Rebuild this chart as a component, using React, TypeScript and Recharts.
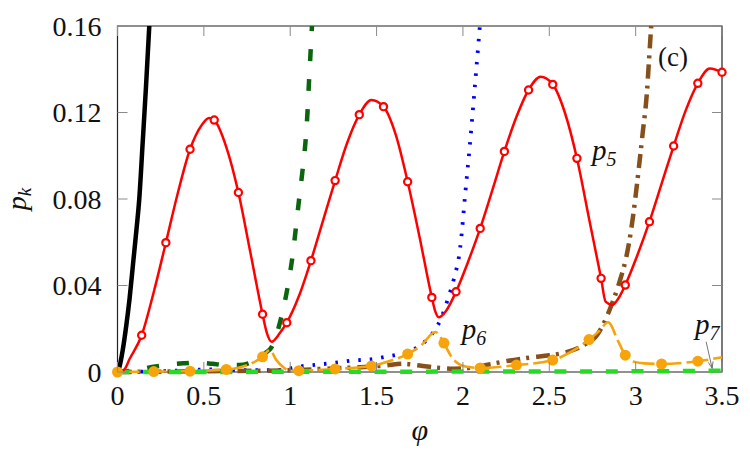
import React from 'react';
import { LineChart, Line, XAxis, YAxis, ReferenceArea, ReferenceDot, ReferenceLine, Label } from 'recharts';

type Pt = [number, number];

const xTicks = [0, 0.5, 1, 1.5, 2, 2.5, 3, 3.5];
const yTicks = [0, 0.04, 0.08, 0.12, 0.16];

// steep curves leave the frame at p = 0.16
const curveBlack: Pt[] = [
  [0, 0], [0.01, 0.002], [0.03, 0.01], [0.05, 0.021], [0.07, 0.034], [0.09, 0.05],
  [0.11, 0.066], [0.126, 0.08], [0.145, 0.105], [0.165, 0.132], [0.184, 0.16],
];

const curveDarkGreen: Pt[] = [
  [0, 0], [0.1, 0.0008], [0.22, 0.0025], [0.3, 0.0034], [0.38, 0.004], [0.45, 0.0043],
  [0.55, 0.0038], [0.62, 0.0032], [0.7, 0.0032], [0.76, 0.004], [0.82, 0.0065], [0.86, 0.009],
  [0.893, 0.0116], [0.941, 0.023], [0.975, 0.035], [1.009, 0.051], [1.051, 0.0795], [1.071, 0.093],
  [1.09, 0.108], [1.1, 0.12], [1.109, 0.1346], [1.118, 0.148], [1.126, 0.16],
];

const curveBlue: Pt[] = [
  [0, 0], [0.3, 0.0005], [0.55, 0.0012], [0.8, 0.0008], [0.95, 0.001], [1.05, 0.0025],
  [1.15, 0.0033], [1.29, 0.0046], [1.36, 0.0053], [1.42, 0.0056], [1.48, 0.006], [1.55, 0.007],
  [1.62, 0.008], [1.68, 0.0093], [1.74, 0.0116], [1.79, 0.0148], [1.83, 0.0186], [1.869, 0.024],
  [1.917, 0.0348], [1.946, 0.0425], [1.985, 0.058], [2.014, 0.083], [2.039, 0.104], [2.068, 0.131],
  [2.098, 0.16],
];

const curveBrown: Pt[] = [
  [0, 0], [0.3, 0.0002], [0.7, 0.0005], [1.0, 0.0008], [1.2, 0.0015], [1.4, 0.0022], [1.55, 0.003],
  [1.65, 0.0038], [1.75, 0.003], [1.85, 0.002], [1.95, 0.0015], [2.05, 0.002], [2.15, 0.0035],
  [2.25, 0.005], [2.4, 0.0068], [2.5, 0.0077], [2.6, 0.0092], [2.7, 0.0125], [2.78, 0.0175],
  [2.83, 0.025], [2.86, 0.031], [2.9, 0.04], [2.96, 0.059], [2.985, 0.072], [3.008, 0.087],
  [3.04, 0.11], [3.066, 0.13], [3.078, 0.145], [3.09, 0.16],
];

const curveP5: Pt[] = [
  [0, 0], [0.04, 0.0012], [0.07, 0.006], [0.14, 0.017], [0.21, 0.037], [0.28, 0.0598], [0.35, 0.083],
  [0.42, 0.103], [0.49, 0.1145], [0.53, 0.1175], [0.56, 0.1165], [0.63, 0.104], [0.7, 0.083],
  [0.77, 0.055], [0.84, 0.0267], [0.863, 0.0186], [0.892, 0.014], [0.94, 0.018], [0.98, 0.0228],
  [1.05, 0.035], [1.12, 0.0515], [1.19, 0.07], [1.26, 0.0885], [1.33, 0.106], [1.4, 0.119],
  [1.47, 0.1258], [1.54, 0.1227], [1.61, 0.11], [1.68, 0.088], [1.75, 0.062], [1.82, 0.0345],
  [1.84, 0.028], [1.86, 0.0253], [1.9, 0.028], [1.96, 0.0371], [2.03, 0.051], [2.1, 0.0664],
  [2.17, 0.084], [2.24, 0.102], [2.31, 0.118], [2.38, 0.1304], [2.45, 0.1365], [2.52, 0.133],
  [2.59, 0.12], [2.66, 0.0988], [2.73, 0.071], [2.8, 0.0433], [2.826, 0.0325], [2.865, 0.031],
  [2.9, 0.034], [2.94, 0.0402], [3.01, 0.054], [3.08, 0.0695], [3.15, 0.087], [3.22, 0.1045],
  [3.29, 0.121], [3.36, 0.1335], [3.43, 0.1403], [3.5, 0.1386],
];

const marksP5: Pt[] = [
  [0.14, 0.017], [0.28, 0.0598], [0.42, 0.103], [0.56, 0.1165], [0.7, 0.083], [0.84, 0.0267],
  [0.98, 0.0228], [1.12, 0.0515], [1.26, 0.0885], [1.4, 0.119], [1.54, 0.1227], [1.68, 0.088],
  [1.82, 0.0345], [1.96, 0.0371], [2.1, 0.0664], [2.24, 0.102], [2.38, 0.1304], [2.52, 0.133],
  [2.66, 0.0988], [2.8, 0.0433], [2.94, 0.0402], [3.08, 0.0695], [3.22, 0.1045], [3.36, 0.1335],
  [3.5, 0.1386],
];

const curveP6: Pt[] = [
  [0, 0], [0.21, 0.0002], [0.42, 0.0004], [0.63, 0.0012], [0.7, 0.002], [0.77, 0.0038], [0.84, 0.007],
  [0.882, 0.0102], [0.92, 0.0055], [0.96, 0.0022], [0.99, 0.0008], [1.05, 0.0006], [1.26, 0.0014],
  [1.47, 0.0028], [1.58, 0.0052], [1.68, 0.0083], [1.76, 0.0125], [1.84, 0.0185], [1.89, 0.0134],
  [1.93, 0.0075], [1.97, 0.004], [2.02, 0.0024], [2.1, 0.0019], [2.31, 0.0032], [2.52, 0.0055],
  [2.63, 0.0095], [2.73, 0.015], [2.79, 0.019], [2.84, 0.023], [2.9, 0.014], [2.94, 0.0078],
  [2.98, 0.005], [3.05, 0.004], [3.15, 0.0037], [3.36, 0.005], [3.5, 0.0068],
];

const marksP6: Pt[] = [
  [0, 0], [0.21, 0.0002], [0.42, 0.0004], [0.63, 0.0012], [0.84, 0.007], [1.05, 0.0006],
  [1.26, 0.0014], [1.47, 0.0028], [1.68, 0.0083], [1.89, 0.0134], [2.1, 0.0019], [2.31, 0.0032],
  [2.52, 0.0055], [2.73, 0.015], [2.94, 0.0078], [3.15, 0.0037], [3.36, 0.005],
];

const curveP7: Pt[] = [
  [0, 0], [0.5, 0], [1, 0.0001], [1.5, 0.0001], [2, 0.0002], [2.5, 0.0002], [3, 0.0003], [3.5, 0.0006],
];

const rows = (pts: Pt[]) => pts.map(([x, y]) => ({ x, y }));

const W = 750;
const H = 450;
const PLOT_TOP = 26;
const PLOT_BOTTOM = 372;
const PLOT_LEFT = 117.5;
const PLOT_RIGHT = 722;
const TICK_LEN = 10;
const FONT = "'Liberation Serif', 'DejaVu Serif', serif";
const serif = { fontFamily: FONT };
const italic = { fontFamily: FONT, fontStyle: 'italic' as const };

const XTick = (props: any) => {
  const { x, payload } = props;
  return (
    <g>
      <line x1={x} x2={x} y1={PLOT_BOTTOM} y2={PLOT_BOTTOM - TICK_LEN} stroke="#8a8a8a" />
      <line x1={x} x2={x} y1={PLOT_TOP} y2={PLOT_TOP + TICK_LEN} stroke="#8a8a8a" />
      <text x={x} y={PLOT_BOTTOM + 33} textAnchor="middle" style={serif} fontSize={28} fill="#111">
        {String(payload.value)}
      </text>
    </g>
  );
};

const YTick = (props: any) => {
  const { y, payload } = props;
  return (
    <g>
      <line x1={PLOT_LEFT} x2={PLOT_LEFT + TICK_LEN} y1={y} y2={y} stroke="#8a8a8a" />
      <line x1={PLOT_RIGHT} x2={PLOT_RIGHT - TICK_LEN} y1={y} y2={y} stroke="#8a8a8a" />
      <text x={PLOT_LEFT - 16} y={y + 9.5} textAnchor="end" style={serif} fontSize={28} fill="#111">
        {String(payload.value)}
      </text>
    </g>
  );
};

// italic p with a subscript, placed at a data point
const pLabel = (sub: string) => (props: any) => (
  <text x={props.cx} y={props.cy} style={italic} fontSize={29} fill="#111">
    p
    <tspan fontSize={20} dy={6} style={serif}>{sub}</tspan>
  </text>
);

const Arrow = (props: any) => {
  const { x1, y1, x2, y2 } = props;
  const a = Math.atan2(y2 - y1, x2 - x1);
  const L = 7;
  const w = 0.35;
  const pts = [
    [x2 - L * Math.cos(a - w), y2 - L * Math.sin(a - w)],
    [x2, y2],
    [x2 - L * Math.cos(a + w), y2 - L * Math.sin(a + w)],
  ];
  return (
    <g>
      <line x1={x1} y1={y1} x2={x2} y2={y2} stroke="#666" strokeWidth={0.9} />
      <polyline points={pts.map((p) => p.join(',')).join(' ')} fill="none" stroke="#666" strokeWidth={0.9} />
    </g>
  );
};

const App = () => (
  <div style={{ position: 'absolute', left: 0, top: 0, background: '#fff' }}>
    <LineChart width={W} height={H} margin={{ top: PLOT_TOP, right: W - PLOT_RIGHT, bottom: 0, left: 0 }}>
      <XAxis
        type="number"
        dataKey="x"
        domain={[0, 3.5]}
        ticks={xTicks}
        interval={0}
        height={H - PLOT_BOTTOM}
        axisLine={false}
        tickLine={false}
        tickSize={0}
        tick={<XTick />}
      >
        <Label
          content={(p: any) => (
            <text
              x={p.viewBox.x + p.viewBox.width / 2}
              y={p.viewBox.y + 68}
              textAnchor="middle"
              style={italic}
              fontSize={30}
              fill="#111"
            >
              φ
            </text>
          )}
        />
      </XAxis>
      <YAxis
        type="number"
        domain={[0, 0.16]}
        ticks={yTicks}
        interval={0}
        width={PLOT_LEFT}
        axisLine={false}
        tickLine={false}
        tickSize={0}
        tick={<YTick />}
      >
        <Label
          content={(p: any) => {
            const cy = p.viewBox.y + p.viewBox.height / 2;
            return (
              <text
                x={26}
                y={cy}
                transform={`rotate(-90, 26, ${cy})`}
                textAnchor="middle"
                style={italic}
                fontSize={28}
                fill="#111"
              >
                p<tspan fontSize={19} dy={5}>k</tspan>
              </text>
            );
          }}
        />
      </YAxis>

      <ReferenceArea x1={0} x2={3.5} y1={0} y2={0.16} fill="none" stroke="#222" strokeWidth={1.2} />

      <Line data={rows(curveBlack)} dataKey="y" type="monotone" stroke="#000" strokeWidth={4.5}
        dot={false} activeDot={false} isAnimationActive={false} />
      <Line data={rows(curveDarkGreen)} dataKey="y" type="monotone" stroke="#0b650f" strokeWidth={4.5}
        strokeDasharray="12 18" dot={false} activeDot={false} isAnimationActive={false} />
      <Line data={rows(curveBlue)} dataKey="y" type="monotone" stroke="#0000ff" strokeWidth={3.8}
        strokeDasharray="2.5 9" dot={false} activeDot={false} isAnimationActive={false} />
      <Line data={rows(curveBrown)} dataKey="y" type="monotone" stroke="#85501c" strokeWidth={4.5}
        strokeDasharray="14 6 3 7" dot={false} activeDot={false} isAnimationActive={false} />
      <Line data={rows(curveP6)} dataKey="y" type="monotone" stroke="#f7a40b" strokeWidth={2.6}
        strokeDasharray="22 5" dot={false} activeDot={false} isAnimationActive={false} />
      <Line data={rows(marksP6)} dataKey="y" stroke="none" isAnimationActive={false} activeDot={false}
        dot={{ r: 5.5, fill: '#f7a40b', stroke: 'none' }} />
      <Line data={rows(curveP7)} dataKey="y" type="monotone" stroke="#22dd22" strokeWidth={4.5}
        strokeDasharray="12 13.7" dot={false} activeDot={false} isAnimationActive={false} />
      <Line data={rows(curveP5)} dataKey="y" type="monotone" stroke="#ff0000" strokeWidth={2.5}
        dot={false} activeDot={false} isAnimationActive={false} />
      <Line data={rows(marksP5)} dataKey="y" stroke="none" isAnimationActive={false} activeDot={false}
        dot={{ r: 3.6, fill: '#fff', stroke: '#ff0000', strokeWidth: 2.2 }} />

      <ReferenceDot x={2.747} y={0.098} r={0} shape={pLabel('5')} />
      <ReferenceDot x={1.993} y={0.0153} r={0} shape={pLabel('6')} />
      <ReferenceDot x={3.344} y={0.0176} r={0} shape={pLabel('7')} />
      <ReferenceLine segment={[{ x: 3.408, y: 0.014 }, { x: 3.443, y: 0.0017 }]} shape={<Arrow />} />
      <ReferenceDot
        x={3.13}
        y={0.1415}
        r={0}
        shape={(p: any) => (
          <text x={p.cx} y={p.cy} style={serif} fontSize={27} fill="#111">(c)</text>
        )}
      />
    </LineChart>
  </div>
);

export default App;
